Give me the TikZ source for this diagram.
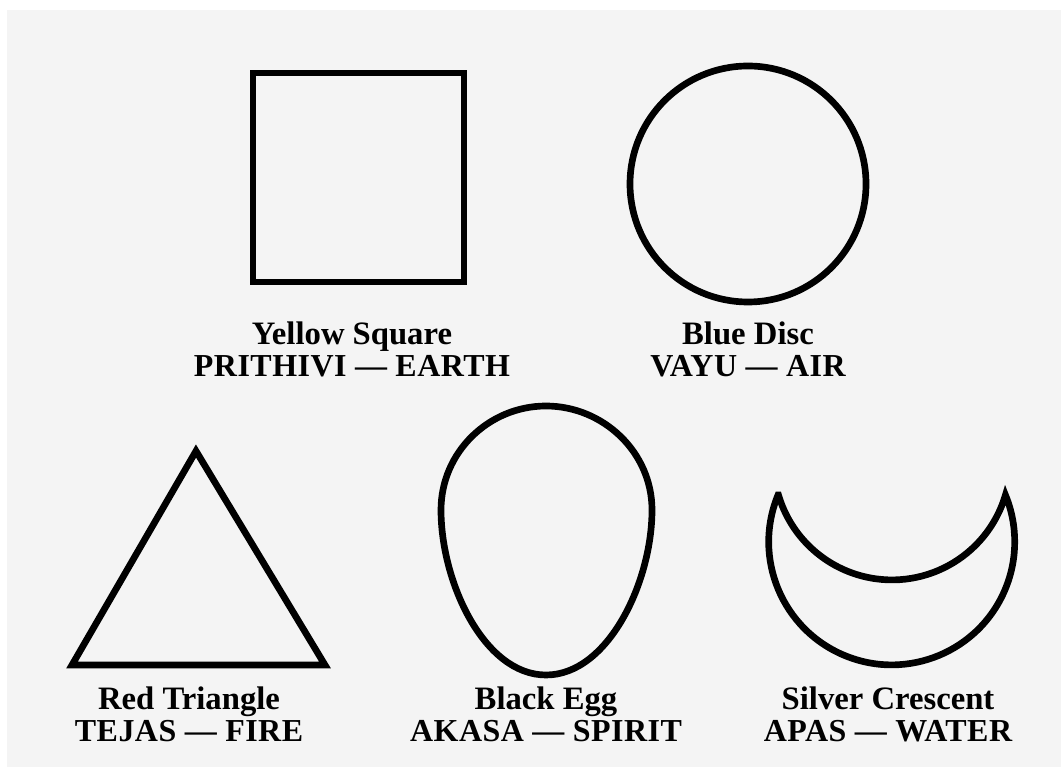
\documentclass[tikz,border=0pt]{standalone}
\usepackage{fontspec}
\setmainfont{Liberation Serif}
\newfontfamily\tattvafont[LetterSpace=1.5]{Liberation Serif}
\definecolor{paper}{HTML}{F4F4F4}

\begin{document}
\begin{tikzpicture}[x=0.02cm,y=0.02cm,
  tattva shape/.style={draw=black,line width=3.8pt,line join=miter},
  colour label/.style={anchor=base,inner sep=0pt,font=\fontsize{18.6}{19}\selectfont\bfseries},
  element label/.style={anchor=base,inner sep=0pt,font=\fontsize{18.2}{19}\selectfont\tattvafont\bfseries}]
\useasboundingbox (0,0) rectangle (1061,767);
\fill[paper] (7,0) rectangle (1061,757);

% earth
\draw[tattva shape] (253,485) rectangle (464,694);
\node[colour label] (sqname) at (352,422) {Yellow Square};
\node[element label] (sqtattva) at (352,390) {PRITHIVI — EARTH};

% air
\draw[tattva shape] (748,583) circle[radius=118];
\node[colour label] (discname) at (748,422) {Blue Disc};
\node[element label] (disctattva) at (748,390) {VAYU — AIR};

% fire
\draw[tattva shape] (72,102) -- (196,316) -- (325,102) -- cycle;
\node[colour label] (triname) at (189,57) {Red Triangle};
\node[element label] (tritattva) at (189,25) {TEJAS — FIRE};

% spirit
\draw[tattva shape] (546,361) .. controls (603,361) and (652,315) .. (652,257)
  .. controls (652,185) and (608,92) .. (546,92)
  .. controls (484,92) and (441,185) .. (441,257)
  .. controls (441,315) and (489,361) .. cycle;
\node[colour label] (eggname) at (546,57) {Black Egg};
\node[element label] (eggtattva) at (546,25) {AKASA — SPIRIT};

% water
\draw[tattva shape] (778,272) arc[start angle=157.6,end angle=382.4,radius=123]
  arc[start angle=343.6,end angle=196.4,radius=118.3] -- cycle;
\node[colour label] (moonname) at (888,57) {Silver Crescent};
\node[element label] (moontattva) at (888,25) {APAS — WATER};
\end{tikzpicture}
\end{document}
